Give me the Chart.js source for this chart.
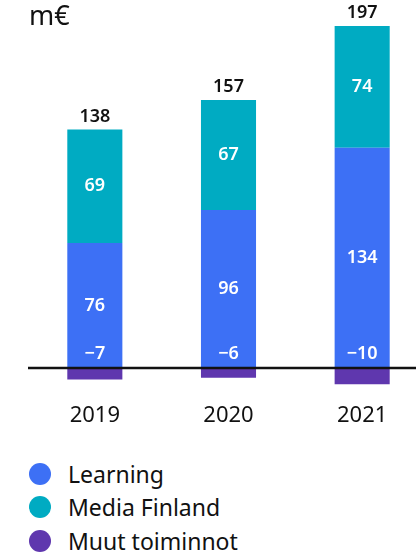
<!DOCTYPE html>
<html>
<head>
<meta charset="utf-8">
<script src="https://cdn.jsdelivr.net/npm/chart.js@4"></script>
<style>
    html, body { margin: 0; padding: 0; background: #fff; overflow: hidden; width: 416px; height: 555px; }
    #wrap { position: absolute; left: 0; top: 0; width: 429px; height: 451px; }
    #unit { position: absolute; left: 29px; top: -4px; font: 400 27px "Noto Sans", sans-serif; color: #111; }
    #legend { position: absolute; left: 29px; top: 457px; font: 400 23px "Noto Sans", sans-serif; color: #111; }
    .item { display: flex; align-items: center; height: 33.5px; }
    .dot { width: 22px; height: 22px; border-radius: 50%; margin-right: 17px; }
</style>
</head>
<body>
<div id="wrap"><canvas id="chart"></canvas></div>
<div id="unit">m€</div>
<div id="legend"></div>
<script>
    'use strict';

    // Data (m€)
    const years = ['2019', '2020', '2021'];
    const learning = [76, 96, 134];
    const mediaFinland = [69, 67, 74];
    const muutToiminnot = [-7, -6, -10];
    const totals = [138, 157, 197];

    const COLORS = {
        learning: '#3d70f5',
        media: '#00abc2',
        muut: '#5f37ae',
        text: '#111111'
    };

    const FONT = "'Noto Sans', sans-serif";

    // Draws segment values, totals and the zero line on top of the bars
    const labelPlugin = {
        id: 'labels',
        afterDatasetsDraw(chart) {
            const ctx = chart.ctx;
            const yScale = chart.scales.y;
            const zeroY = yScale.getPixelForValue(0);
            ctx.save();
            ctx.textAlign = 'center';
            ctx.textBaseline = 'middle';
            ctx.font = `600 18px ${FONT}`;
            ctx.fillStyle = '#ffffff';

            chart.data.datasets.forEach((ds, i) => {
                const meta = chart.getDatasetMeta(i);
                meta.data.forEach((bar, j) => {
                    const v = ds.data[j];
                    let y;
                    if (v < 0) {
                        y = zeroY - 14;
                    } else {
                        y = (bar.y + bar.base) / 2;
                    }
                    const txt = v < 0 ? '\u2212' + Math.abs(v) : String(v);
                    ctx.fillText(txt, bar.x, y);
                });
            });

            // totals above the top segment
            const topMeta = chart.getDatasetMeta(1);
            ctx.fillStyle = COLORS.text;
            topMeta.data.forEach((bar, j) => {
                ctx.fillText(String(totals[j]), bar.x, bar.y - 13);
            });

            // zero line
            ctx.strokeStyle = COLORS.text;
            ctx.lineWidth = 2.5;
            ctx.beginPath();
            ctx.moveTo(chart.chartArea.left, zeroY);
            ctx.lineTo(chart.width, zeroY);
            ctx.stroke();
            ctx.restore();
        }
    };

    const datasets = [
        { label: 'Learning', data: learning, backgroundColor: COLORS.learning },
        { label: 'Media Finland', data: mediaFinland, backgroundColor: COLORS.media },
        { label: 'Muut toiminnot', data: muutToiminnot, backgroundColor: COLORS.muut }
    ];

    new Chart(document.getElementById('chart'), {
        type: 'bar',
        data: { labels: years, datasets: datasets },
        options: {
            responsive: true,
            maintainAspectRatio: false,
            animation: false,
            layout: { padding: { left: 28, right: 0, top: 26, bottom: 15 } },
            datasets: {
                bar: { categoryPercentage: 1, barPercentage: 0.412, borderWidth: 0 }
            },
            plugins: {
                legend: { display: false },
                tooltip: { enabled: false }
            },
            scales: {
                x: {
                    stacked: true,
                    grid: { display: false },
                    border: { display: false },
                    ticks: { color: COLORS.text, font: { family: FONT, size: 22 }, padding: 7 }
                },
                y: {
                    stacked: true,
                    min: -12,
                    max: 208,
                    display: false
                }
            }
        },
        plugins: [labelPlugin]
    });

    // HTML legend
    const legend = document.getElementById('legend');
    datasets.forEach(ds => {
        const row = document.createElement('div');
        row.className = 'item';
        const dot = document.createElement('span');
        dot.className = 'dot';
        dot.style.background = ds.backgroundColor;
        const label = document.createElement('span');
        label.textContent = ds.label;
        row.appendChild(dot);
        row.appendChild(label);
        legend.appendChild(row);
    });
</script>
</body>
</html>
